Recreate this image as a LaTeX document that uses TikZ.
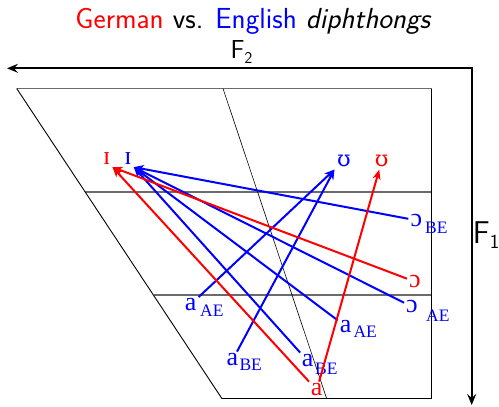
\documentclass[tikz,border=0pt]{standalone}
\usepackage{fontspec}
\newfontfamily\ipafont{Liberation Serif}
\newfontfamily\upsfont{DejaVu Serif}
\usetikzlibrary{arrows.meta}
\begin{document}
\begin{tikzpicture}[x=1pt,y=-1pt,
  vowel/.style={font=\ipafont\fontsize{26}{26}\selectfont, inner sep=2pt},
  upsv/.style={font=\upsfont\fontsize{22}{22}\selectfont, inner sep=2.5pt},
  subtxt/.style={font=\ipafont\fontsize{17.5}{17.5}\selectfont, inner sep=0pt, anchor=west},
  redv/.style={vowel, text=red},
  bluev/.style={vowel, text=blue},
  redsub/.style={subtxt, text=red},
  bluesub/.style={subtxt, text=blue},
  conn/.style={line width=2pt, -{Stealth[length=10pt,width=8pt,inset=3pt]}},
  redc/.style={conn, draw=red},
  bluec/.style={conn, draw=blue},
  gridline/.style={line width=1.8pt, draw=black!58},
  edgeline/.style={line width=0.9pt, draw=black},
  diagline/.style={line width=0.6pt, draw=black},
  axisline/.style={line width=2pt, draw=black, {Stealth[length=11pt,width=9pt,inset=4pt]}-{Stealth[length=11pt,width=9pt,inset=4pt]}},
  axislab/.style={inner sep=0pt, anchor=base west},
]
\useasboundingbox (0,0) rectangle (499,407);
% title
\node[anchor=base, inner sep=0pt] (title) at (253.5,28.5)
  {\sffamily\fontsize{29}{29}\selectfont\textcolor{red}{German} vs. \textcolor{blue}{English} \textit{diphthongs}};
% axes
\coordinate (F2end) at (7,68.3);
\coordinate (corner) at (471.7,68.3);
\coordinate (F1end) at (471.7,405);
\draw[axisline] (F2end) -- (corner) -- (F1end);
\node[axislab] (F2) at (230.5,58)
  {\sffamily\fontsize{26}{26}\selectfont F\raisebox{-5.5pt}{\fontsize{16.5}{16.5}\selectfont 2}};
\node[axislab] (F1) at (472.7,243)
  {\sffamily\fontsize{31.5}{31.5}\selectfont F\raisebox{-5pt}{\fontsize{20}{20}\selectfont 1}};
% vowel quadrilateral
\coordinate (TL) at (16.7,88.5);
\coordinate (TR) at (431.7,88.5);
\coordinate (BR) at (431.7,398.7);
\coordinate (BL) at (222,398.7);
\coordinate (ML1) at (85.3,192);
\coordinate (MR1) at (431.7,192);
\coordinate (ML2) at (153.6,295.2);
\coordinate (MR2) at (431.7,295.2);
\coordinate (DT) at (223,88.5);
\coordinate (DB) at (326.7,398.7);
\draw[gridline, line width=1.4pt] (TL) -- (TR);
\draw[gridline] (ML1) -- (MR1);
\draw[gridline] (ML2) -- (MR2);
\draw[edgeline] (TL) -- (BL);
\draw[edgeline] (TR) -- (BR);
\draw[edgeline, line width=1.4pt] (BL) -- (BR);
\draw[diagline] (DT) -- (DB);
% vowels
\node[redv]  (Ired)  at (106.7,159) {ɪ};
\node[bluev] (Iblue) at (128,159) {ɪ};
\node[upsv, text=blue] (Ublue) at (344,161) {ʊ};
\node[upsv, text=red]  (Ured)  at (381.7,161) {ʊ};
\node[bluev] (OBE)   at (416.3,220.3) {ɔ};
\node[bluesub] (OBEs) at (425,228) {BE};
\node[redv]  (Ored)  at (415,281.7) {ɔ};
\node[bluev] (OAE)   at (412,306.7) {ɔ};
\node[bluesub] (OAEs) at (426,315.5) {AE};
\node[bluev] (aAE1)  at (190.7,304.5) {a};
\node[bluesub] (aAE1s) at (200,310.5) {AE};
\node[bluev] (aAE2)  at (345.7,326.3) {a};
\node[bluesub] (aAE2s) at (353.3,331.7) {AE};
\node[bluev] (aBE1)  at (232.5,360) {a};
\node[bluesub] (aBE1s) at (239.3,365) {BE};
\node[bluev] (aBE2)  at (307.7,361) {a};
\node[bluesub] (aBE2s) at (315,369) {BE};
\node[redv]  (ared)  at (316.7,390) {a};
% connectors
\draw[bluec] (OBE) -- (Iblue.south east);
\draw[bluec] (OAE) -- (Iblue.south east);
\draw[bluec] (aAE2) -- (Iblue.south east);
\draw[bluec] (aBE2) -- (Iblue.south east);
\draw[bluec] (aAE1) -- (Ublue.south west);
\draw[bluec] (aBE1) -- (Ublue.south west);
\draw[redc] (ared) -- (Ired.south east);
\draw[redc] (Ored) -- (Ired.south east);
\draw[redc] (ared) -- (Ured);
\end{tikzpicture}
\end{document}
